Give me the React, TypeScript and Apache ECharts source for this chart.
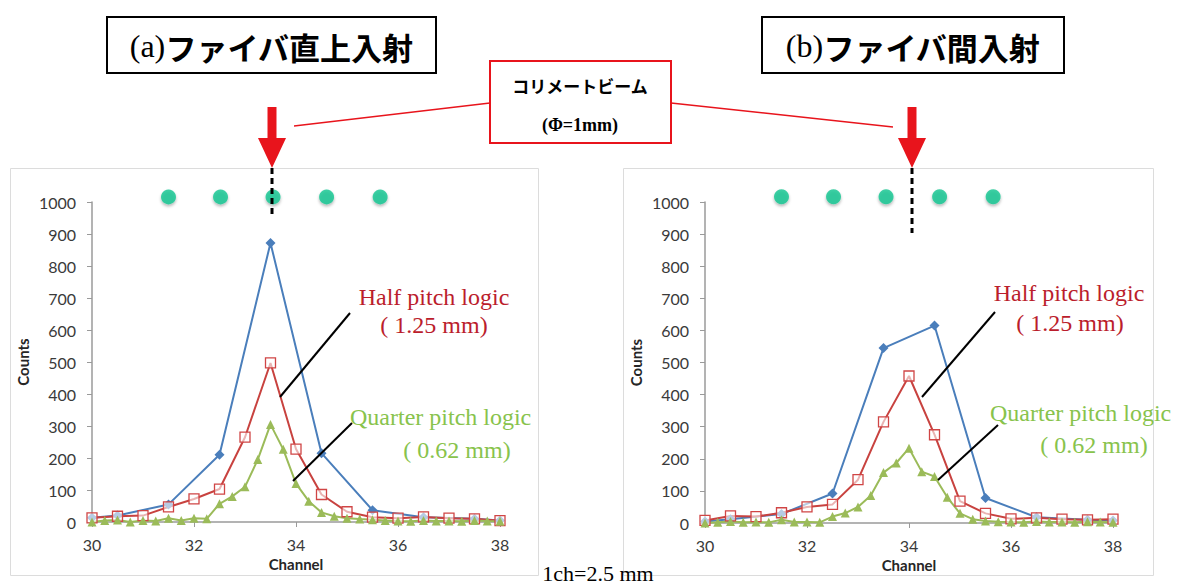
import React, { useEffect, useRef } from "react";
import * as echarts from "echarts";

// ---- data ----
const leftBlueX = [30, 30.5, 31.5, 32.5, 33.5, 34.5, 35.5, 36.5, 37.5, 38];
const leftBlueY = [13, 20, 55, 210, 872, 215, 37, 15, 10, 5];
const leftRedX = [30, 30.5, 31, 31.5, 32, 32.5, 33, 33.5, 34, 34.5, 35, 35.5, 36, 36.5, 37, 37.5, 38];
const leftRedY = [13, 18, 20, 47, 72, 103, 265, 497, 228, 86, 32, 15, 12, 16, 12, 10, 4];
const quarterX = [30, 30.25, 30.5, 30.75, 31, 31.25, 31.5, 31.75, 32, 32.25, 32.5, 32.75, 33, 33.25, 33.5, 33.75, 34, 34.25, 34.5, 34.75, 35, 35.25, 35.5, 35.75, 36, 36.25, 36.5, 36.75, 37, 37.25, 37.5, 37.75, 38];
const leftGreenY = [0, 5, 6, 0, 5, 3, 12, 5, 12, 10, 57, 80, 110, 195, 305, 227, 120, 65, 30, 18, 12, 9, 7, 5, 3, 2, 5, 3, 3, 2, 5, 3, 2];

const rightBlueX = [30, 30.5, 31.5, 32.5, 33.5, 34.5, 35.5, 36.5, 37.5, 38];
const rightBlueY = [5, 12, 28, 92, 545, 615, 78, 18, 10, 8];
const rightRedX = [30, 30.5, 31, 31.5, 32, 32.5, 33, 33.5, 34, 34.5, 35, 35.5, 36, 36.5, 37, 37.5, 38];
const rightRedY = [8, 22, 20, 32, 50, 58, 135, 315, 458, 275, 68, 30, 13, 16, 12, 10, 12];
const rightGreenY = [0, 2, 5, 2, 3, 2, 10, 3, 3, 2, 20, 31, 50, 86, 157, 187, 233, 160, 145, 80, 30, 12, 6, 4, 3, 2, 5, 3, 3, 2, 4, 3, 2];

const fiberX = [31.5, 32.52, 33.55, 34.6, 35.65];
const fiberLevel = 1016;

const xTicks = { min: 30, max: 38, interval: 2 };
const yTicks = { min: 0, max: 1000, interval: 100 };

const titleA = "ファイバ直上入射";
const titleB = "ファイバ間入射";
const beamLabel = "コリメートビーム";
const beamSize = "(Φ=1mm)";
const halfLabel = ["Half pitch logic", "( 1.25 mm)"];
const quarterLabel = ["Quarter pitch logic", "( 0.62 mm)"];
const scaleNote = "1ch=2.5 mm";

const BLUE = "#4a7ebb";
const RED = "#c8423f";
const GREEN = "#9bbb59";
const RED_TEXT = "#bb1d2c";
const GREEN_TEXT = "#88c34c";
const AXIS_FONT = "Lato";

const zip = (xs: number[], ys: number[]) => xs.map((x, i) => [x, ys[i]]);

function axisPair(gi: number) {
  const xAxis = {
    type: "value",
    gridIndex: gi,
    ...xTicks,
    name: "Channel",
    nameLocation: "middle",
    nameGap: 31,
    nameTextStyle: { fontFamily: AXIS_FONT, fontWeight: "bold", fontSize: 15, color: "#262626" },
    axisLine: { show: true, onZero: false, lineStyle: { color: "#9a9a9a", width: 1.5 } },
    axisTick: { show: true, length: 5, lineStyle: { color: "#9a9a9a" } },
    axisLabel: { fontFamily: AXIS_FONT, fontSize: 16, color: "#3a3a3a", margin: 14, formatter: (v: number) => String(v) },
    splitLine: { show: false },
  };
  const yAxis = {
    type: "value",
    gridIndex: gi,
    ...yTicks,
    name: "Counts",
    nameLocation: "middle",
    nameGap: 62,
    nameTextStyle: { fontFamily: AXIS_FONT, fontWeight: "bold", fontSize: 15, color: "#262626" },
    axisLine: { show: true, lineStyle: { color: "#9a9a9a", width: 1.5 } },
    axisTick: { show: true, length: 5, lineStyle: { color: "#9a9a9a" } },
    axisLabel: { fontFamily: AXIS_FONT, fontSize: 16, color: "#3a3a3a", margin: 16, formatter: (v: number) => String(v) },
    splitLine: { show: false },
  };
  return { xAxis, yAxis };
}

function seriesFor(gi: number, bx: number[], by: number[], rx: number[], ry: number[], gy: number[]) {
  return [
    {
      type: "line", xAxisIndex: gi, yAxisIndex: gi, data: zip(bx, by),
      symbol: "diamond", symbolSize: 10, lineStyle: { color: BLUE, width: 2 },
      itemStyle: { color: BLUE },
    },
    {
      type: "line", xAxisIndex: gi, yAxisIndex: gi, data: zip(rx, ry),
      symbol: "rect", symbolSize: 10, lineStyle: { color: RED, width: 2 },
      itemStyle: { color: "rgba(255,255,255,0.6)", borderColor: "#d04545", borderWidth: 1.3 },
    },
    {
      type: "line", xAxisIndex: gi, yAxisIndex: gi, data: zip(quarterX, gy),
      symbol: "triangle", symbolSize: 9, lineStyle: { color: GREEN, width: 2 },
      itemStyle: { color: GREEN },
    },
    {
      type: "scatter", xAxisIndex: gi, yAxisIndex: gi, clip: false,
      data: fiberX.map((x) => [x, fiberLevel]),
      symbol: "circle", symbolSize: 15,
      itemStyle: { color: "#10c48e", shadowBlur: 3, shadowColor: "rgba(0,0,0,0.35)", shadowOffsetY: 2 },
      z: 1,
    },
  ];
}

function arrow(cx: number) {
  return [
    { type: "rect", shape: { x: cx - 4.5, y: 107, width: 9, height: 33 }, style: { fill: "#e8141c" } },
    { type: "polygon", shape: { points: [[cx - 14, 138], [cx + 14, 138], [cx, 168]] }, style: { fill: "#e8141c" } },
  ];
}

function serifText(x: number, y: number, text: string, color: string, align = "center", size = 24) {
  return {
    type: "text", x, y,
    style: { text, fill: color, font: `${size}px "Liberation Serif"`, textAlign: align, textVerticalAlign: "middle" },
  };
}

function titleBox(x: number, w: number, text: string, letter: string) {
  return [
    { type: "rect", shape: { x, y: 17, width: w, height: 56 }, style: { fill: "#fff", stroke: "#000", lineWidth: 2 } },
    {
      type: "text", x: x + w / 2, y: 46,
      style: {
        text: `{a|(${letter})}{b|${text}}`,
        textAlign: "center", textVerticalAlign: "middle",
        rich: {
          a: { fontFamily: "Liberation Serif", fontSize: 32, fill: "#000", fontWeight: "normal" },
          b: { fontFamily: "Noto Sans CJK JP", fontSize: 31, fontWeight: "bold", fill: "#000" },
        },
      },
    },
  ];
}

export default function App() {
  const ref = useRef<HTMLDivElement>(null);
  useEffect(() => {
    if (!ref.current) return;
    const chart = echarts.init(ref.current, null, { renderer: "svg" });
    const a0 = axisPair(0);
    const a1 = axisPair(1);
    const graphic: any[] = [
      // chart frames
      { type: "rect", shape: { x: 10.5, y: 168.5, width: 528, height: 407 }, style: { fill: "none", stroke: "#dcdcdc", lineWidth: 1 }, z: -10 },
      { type: "rect", shape: { x: 623.5, y: 168.5, width: 530, height: 407 }, style: { fill: "none", stroke: "#dcdcdc", lineWidth: 1 }, z: -10 },
      ...titleBox(107, 329, titleA, "a"),
      ...titleBox(762, 302, titleB, "b"),
      // beam box
      { type: "line", shape: { x1: 490, y1: 103, x2: 294, y2: 126 }, style: { stroke: "#e8141c", lineWidth: 1.5 } },
      { type: "line", shape: { x1: 671, y1: 103, x2: 893, y2: 127 }, style: { stroke: "#e8141c", lineWidth: 1.5 } },
      { type: "rect", shape: { x: 490, y: 61, width: 181, height: 82 }, style: { fill: "#fff", stroke: "#e8141c", lineWidth: 2 } },
      { type: "text", x: 580, y: 85, style: { text: beamLabel, font: 'bold 17px "Noto Sans CJK JP"', fill: "#000", textAlign: "center", textVerticalAlign: "middle" } },
      { type: "text", x: 580, y: 125, style: { text: beamSize, font: 'bold 18px "Liberation Serif"', fill: "#000", textAlign: "center", textVerticalAlign: "middle" } },
      ...arrow(272),
      ...arrow(912),
      { type: "line", shape: { x1: 272, y1: 168, x2: 272, y2: 218 }, style: { stroke: "#000", lineWidth: 3, lineDash: [6, 4] }, z: 5 },
      { type: "line", shape: { x1: 912, y1: 168, x2: 912, y2: 233 }, style: { stroke: "#000", lineWidth: 3, lineDash: [6, 4] }, z: 5 },
      // leaders
      { type: "line", shape: { x1: 350, y1: 313, x2: 280, y2: 397 }, style: { stroke: "#000", lineWidth: 2 }, z: 5 },
      { type: "line", shape: { x1: 352, y1: 423, x2: 293, y2: 481 }, style: { stroke: "#000", lineWidth: 2 }, z: 5 },
      { type: "line", shape: { x1: 995, y1: 312, x2: 922, y2: 397 }, style: { stroke: "#000", lineWidth: 2 }, z: 5 },
      { type: "line", shape: { x1: 998, y1: 425, x2: 938, y2: 480 }, style: { stroke: "#000", lineWidth: 2 }, z: 5 },
      serifText(434, 297, halfLabel[0], RED_TEXT),
      serifText(434, 325, halfLabel[1], RED_TEXT),
      serifText(350, 417, quarterLabel[0], GREEN_TEXT, "left"),
      serifText(457, 450, quarterLabel[1], GREEN_TEXT),
      serifText(1069, 293, halfLabel[0], RED_TEXT),
      serifText(1070, 323, halfLabel[1], RED_TEXT),
      serifText(990, 413, quarterLabel[0], GREEN_TEXT, "left"),
      serifText(1094, 445, quarterLabel[1], GREEN_TEXT),
      serifText(598, 573, scaleNote, "#000", "center", 22),
    ];
    chart.setOption({
      animation: false,
      backgroundColor: "#fff",
      grid: [
        { left: 92, top: 202, width: 408, height: 320 },
        { left: 705, top: 202, width: 408, height: 321 },
      ],
      xAxis: [a0.xAxis, a1.xAxis],
      yAxis: [a0.yAxis, a1.yAxis],
      series: [
        ...seriesFor(0, leftBlueX, leftBlueY, leftRedX, leftRedY, leftGreenY),
        ...seriesFor(1, rightBlueX, rightBlueY, rightRedX, rightRedY, rightGreenY),
      ],
      graphic,
    } as any);
    return () => chart.dispose();
  }, []);
  return (
    <div
      ref={ref}
      style={{ position: "fixed", left: 0, top: 0, width: 1203, height: 585, background: "#fff" }}
    />
  );
}
